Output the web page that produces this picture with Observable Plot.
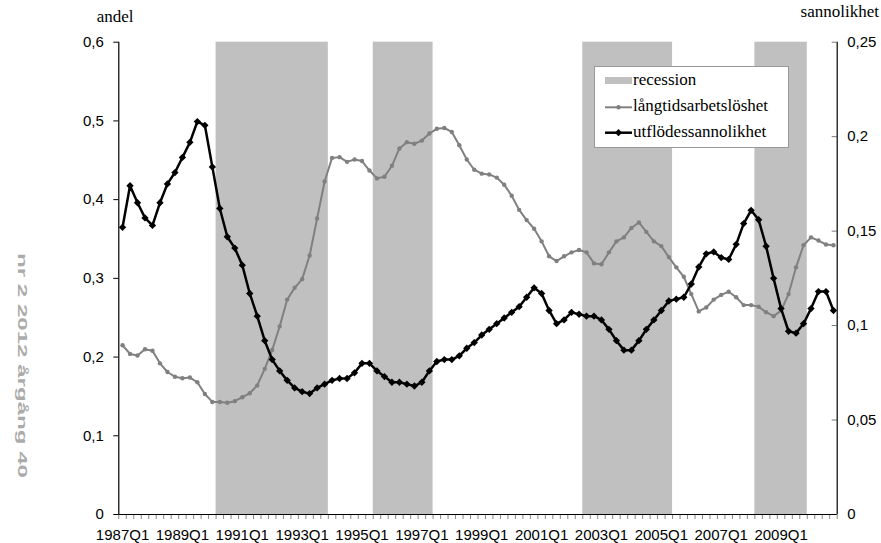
<!DOCTYPE html>
<html><head><meta charset="utf-8">
<script src="https://cdn.jsdelivr.net/npm/d3@7"></script>
<script src="https://cdn.jsdelivr.net/npm/@observablehq/plot@0.6"></script>
<style>
body{margin:0;background:#fff;}
#wrap{position:relative;width:881px;height:543px;overflow:hidden;background:#fff;}
#wrap > svg{position:absolute;left:0;top:0;}
#wrap [aria-label="y-axis"] .tick line{stroke:#777;}
#wrap [aria-label="x-axis"] .tick line{display:none;}
#wrap > svg:first-child g[aria-label*="axis"] text{font-size:15px;font-family:'Liberation Sans',Arial,sans-serif;fill:#000;}
</style></head><body><div id="wrap"></div>
<script>
// ---- data ----
const quarters = [];
for (let y = 1987; y <= 2010; y++) for (let q = 1; q <= 4; q++) quarters.push(`${y}Q${q}`);
const tickLabels = ["1987Q1","1989Q1","1991Q1","1993Q1","1995Q1","1997Q1","1999Q1","2001Q1","2003Q1","2005Q1","2007Q1","2009Q1"];
const recessions = [["1990Q2","1993Q4"],["1995Q3","1997Q2"],["2002Q3","2005Q2"],["2008Q2","2009Q4"]];
const longTermUnemployment = [
  0.215,0.204,0.202,0.210,0.208,0.192,0.181,0.175,0.173,0.174,0.168,0.153,
  0.143,0.143,0.142,0.144,0.149,0.154,0.164,0.185,0.209,0.239,0.273,0.288,
  0.299,0.329,0.376,0.423,0.453,0.454,0.448,0.451,0.449,0.437,0.427,0.429,
  0.443,0.465,0.473,0.471,0.475,0.484,0.490,0.491,0.486,0.469,0.451,0.438,
  0.433,0.432,0.428,0.419,0.405,0.387,0.374,0.363,0.347,0.328,0.322,0.328,
  0.333,0.336,0.333,0.319,0.318,0.333,0.347,0.352,0.364,0.371,0.359,0.347,
  0.341,0.327,0.314,0.302,0.280,0.258,0.263,0.273,0.279,0.283,0.276,0.266,
  0.266,0.264,0.257,0.252,0.259,0.280,0.314,0.342,0.352,0.348,0.343,0.342
];
const outflowProbability = [
  0.152,0.174,0.165,0.157,0.153,0.165,0.175,0.181,0.189,0.197,0.208,0.206,
  0.184,0.162,0.147,0.141,0.132,0.117,0.105,0.092,0.082,0.076,0.071,0.067,
  0.065,0.064,0.067,0.069,0.071,0.072,0.072,0.075,0.080,0.080,0.076,0.073,
  0.070,0.070,0.069,0.068,0.070,0.076,0.081,0.082,0.082,0.084,0.088,0.091,
  0.095,0.098,0.101,0.104,0.107,0.110,0.115,0.120,0.117,0.108,0.101,0.103,
  0.107,0.106,0.105,0.105,0.103,0.098,0.092,0.087,0.087,0.092,0.098,0.103,
  0.108,0.113,0.114,0.115,0.122,0.131,0.138,0.139,0.136,0.135,0.143,0.154,
  0.161,0.156,0.142,0.125,0.109,0.097,0.096,0.101,0.109,0.118,0.118,0.108
];
const leftTicks = [0,0.1,0.2,0.3,0.4,0.5,0.6];
const rightTicks = [0,0.05,0.1,0.15,0.2,0.25];
const leftMax = 0.6, rightMax = 0.25;
const seriesNames = ["recession","långtidsarbetslöshet","utflödessannolikhet"];

// ---- chart ----
const idx = q => quarters.indexOf(q);
const k = leftMax / rightMax;
const last = quarters.length - 0.5;
const grey = longTermUnemployment.map((v,i)=>({i, v}));
const black = outflowProbability.map((v,i)=>({i, v: v * k}));
const fmt = d => Math.abs(d) < 1e-9 ? "0" : String(+d.toFixed(2)).replace(".", ",");
const boundaries = d3.range(quarters.length + 1).map(b => b - 0.5);

const chart = Plot.plot({
  width: 881, height: 543,
  marginLeft: 118.3, marginRight: 44.3, marginTop: 41.7, marginBottom: 29,
  style: {fontFamily: "'Liberation Sans', Arial, sans-serif", fontSize: "15px", background: "transparent", overflow: "visible", color: "#000"},
  x: {domain: [-0.5, last], ticks: tickLabels.map(idx), tickFormat: i => quarters[i], tickSize: 0, tickPadding: 15, label: null},
  y: {domain: [0, leftMax], ticks: leftTicks, tickFormat: fmt, tickSize: 5, tickPadding: 10, label: null},
  marks: [
    Plot.rect(recessions, {x1: d => idx(d[0]) - 0.5, x2: d => idx(d[1]) + 0.5, y1: 0, y2: leftMax, fill: "#c0c0c0"}),
    Plot.ruleX(boundaries, {x: d => d, y1: 0, y2: 0, insetTop: 0, insetBottom: -5, stroke: "#888"}),
    Plot.ruleY(rightTicks, {y: d => d * k, x1: last, x2: last, insetLeft: -5, insetRight: 0, stroke: "#777"}),
    Plot.text(rightTicks, {y: d => d * k, x: () => last, text: d => fmt(d), dx: 10, textAnchor: "start", fontSize: 15, fill: "#000"}),
    Plot.ruleY([0], {stroke: "#000", strokeWidth: 1.2}),
    Plot.ruleX([-0.5, last], {x: d => d, y1: 0, y2: leftMax, stroke: "#000", strokeWidth: 1.2}),
    Plot.line(grey, {x: "i", y: "v", stroke: "#808080", strokeWidth: 2}),
    Plot.dot(grey, {x: "i", y: "v", r: 2.2, fill: "#808080", stroke: "none"}),
    Plot.line(black, {x: "i", y: "v", stroke: "#000", strokeWidth: 2.5}),
    Plot.dot(black, {x: "i", y: "v", r: 3.3, symbol: "diamond2", fill: "#000", stroke: "none"})
  ]
});
const wrap = document.getElementById("wrap");
wrap.appendChild(chart);

// ---- overlay: axis titles, legend, side text ----
const ov = d3.select(wrap).append("svg").attr("width", 881).attr("height", 543);
const serif = "'Liberation Serif', 'Times New Roman', serif";
ov.append("text").attr("x", 96.7).attr("y", 22).attr("font-family", serif).attr("font-size", 17).text("andel");
ov.append("text").attr("x", 879).attr("y", 17.3).attr("text-anchor", "end").attr("font-family", serif).attr("font-size", 17).text("sannolikhet");

const lg = ov.append("g");
lg.append("rect").attr("x", 594.5).attr("y", 66.5).attr("width", 194).attr("height", 81).attr("fill", "#fff").attr("stroke", "#999");
lg.append("rect").attr("x", 605).attr("y", 77).attr("width", 27).attr("height", 7).attr("fill", "#c0c0c0");
lg.append("line").attr("x1", 605).attr("x2", 632).attr("y1", 107.3).attr("y2", 107.3).attr("stroke", "#808080").attr("stroke-width", 2);
lg.append("circle").attr("cx", 618.5).attr("cy", 107.3).attr("r", 2.2).attr("fill", "#808080");
lg.append("line").attr("x1", 605).attr("x2", 632).attr("y1", 132.7).attr("y2", 132.7).attr("stroke", "#000").attr("stroke-width", 2.5);
lg.append("path").attr("d", d3.symbol(d3.symbolDiamond2, Math.PI * 3.3 * 3.3)()).attr("transform", "translate(618.5,132.7)").attr("fill", "#000");
[85, 111, 137].forEach((yb, j) => {
  lg.append("text").attr("x", 633).attr("y", yb).attr("font-family", serif).attr("font-size", 17).text(seriesNames[j]);
});

ov.append("text").attr("transform", "translate(17.5,253) rotate(90)")
  .attr("font-family", "'Liberation Sans', Arial, sans-serif").attr("font-weight", "bold").attr("font-size", 13)
  .attr("fill", "#ababab").attr("textLength", 225).attr("lengthAdjust", "spacingAndGlyphs").text("nr 2 2012 årgång 40");
</script></body></html>
